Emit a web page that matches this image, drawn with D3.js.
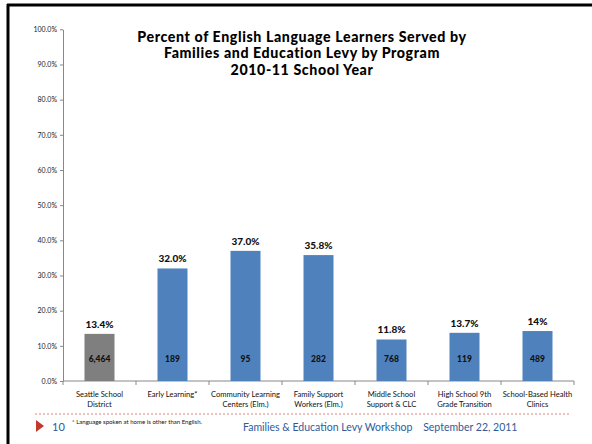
<!DOCTYPE html>
<html><head><meta charset="utf-8">
<script src="https://cdn.jsdelivr.net/npm/d3@7"></script>
<style>html,body{margin:0;padding:0;background:#fff;overflow:hidden}svg{display:block}</style>
</head><body>
<svg id="c" width="592" height="444"></svg>
<script>
const categories = [["Seattle School","District"],["Early Learning*"],["Community Learning","Centers (Elm.)"],["Family Support","Workers (Elm.)"],["Middle School","Support & CLC"],["High School 9th","Grade Transition"],["School-Based Health","Clinics"]];
const percentValues = [13.4, 32.0, 37.0, 35.8, 11.8, 13.7, 14.2];
const percentLabels = ["13.4%","32.0%","37.0%","35.8%","11.8%","13.7%","14%"];
const countLabels = ["6,464","189","95","282","768","119","489"];
const barColors = ["#7f7f7f","#4f81bd","#4f81bd","#4f81bd","#4f81bd","#4f81bd","#4f81bd"];
const yTicks = [0,10,20,30,40,50,60,70,80,90,100];
const titleLines = ["Percent of English Language Learners Served by","Families and Education Levy by Program","2010-11 School Year"];

const svg = d3.select("#c");
const F = "'Lato','Open Sans',sans-serif";

// slide frame
svg.append("line").attr("x1",7).attr("x2",592).attr("y1",5).attr("y2",5).attr("stroke","#000").attr("stroke-width",3);
svg.append("line").attr("x1",8).attr("x2",8).attr("y1",4).attr("y2",444).attr("stroke","#000").attr("stroke-width",3);

const x0 = 63, x1 = 574, yTop = 29.3, yBot = 381;
const x = d3.scaleBand().domain(d3.range(categories.length)).range([x0,x1]).paddingInner(0).paddingOuter(0);
const y = d3.scaleLinear().domain([0,100]).range([yBot,yTop]);
const bw = 30;

// y axis
const ya = svg.append("g").attr("transform",`translate(${x0},0)`)
  .call(d3.axisLeft(y).tickValues(yTicks).tickFormat(d=>d.toFixed(1)+"%").tickSize(3).tickSizeOuter(0));
ya.select(".domain").attr("stroke","#888");
ya.selectAll(".tick line").attr("stroke","#888");
ya.selectAll(".tick text").attr("font-family",F).attr("font-size",7).attr("fill","#222").attr("x",-6);

// x axis
const xa = svg.append("g").attr("transform",`translate(0,${yBot})`);
xa.append("line").attr("x1",x0).attr("x2",x1).attr("y1",0).attr("y2",0).attr("stroke","#888");
xa.selectAll("line.t").data(d3.range(categories.length+1)).enter().append("line")
  .attr("x1",i=>x0+i*x.bandwidth()).attr("x2",i=>x0+i*x.bandwidth()).attr("y1",0).attr("y2",4).attr("stroke","#888");

// bars
svg.selectAll("rect.bar").data(percentValues).enter().append("rect")
  .attr("x",(d,i)=>x(i)+x.bandwidth()/2-bw/2).attr("width",bw)
  .attr("y",d=>y(d)).attr("height",d=>yBot-y(d)).attr("fill",(d,i)=>barColors[i]);

svg.selectAll("text.pl").data(percentValues).enter().append("text")
  .attr("x",(d,i)=>x(i)+x.bandwidth()/2).attr("y",d=>y(d)-6)
  .attr("text-anchor","middle").attr("font-family",F).attr("font-weight","900").attr("font-size",10).attr("fill","#111")
  .text((d,i)=>percentLabels[i]);

svg.selectAll("text.cl").data(countLabels).enter().append("text")
  .attr("x",(d,i)=>x(i)+x.bandwidth()/2).attr("y",362)
  .attr("text-anchor","middle").attr("font-family",F).attr("font-weight","900").attr("font-size",8.5).attr("fill","#111")
  .text(d=>d);

// category labels
categories.forEach((lines,i)=>{
  lines.forEach((l,j)=>{
    svg.append("text").attr("x",x(i)+x.bandwidth()/2).attr("y",397+j*9.5)
      .attr("text-anchor","middle").attr("font-family",F).attr("font-size",7.6).attr("fill","#111").text(l);
  });
});

// title
titleLines.forEach((t,i)=>{
  svg.append("text").attr("x",302).attr("y",42+i*16.3).attr("text-anchor","middle")
    .attr("font-family",F).attr("font-weight","900").attr("font-size",14.2).attr("letter-spacing",0.6)
    .attr("fill","#000").text(t);
});

// footer
svg.append("line").attr("x1",35).attr("x2",570).attr("y1",414).attr("y2",414)
  .attr("stroke","#e06060").attr("stroke-width",0.8).attr("stroke-dasharray","2,2");
svg.append("path").attr("d","M36,420 L44,426 L36,432 Z").attr("fill","#c0392b");
svg.append("text").attr("x",52).attr("y",431).attr("font-family",F).attr("font-size",11).attr("fill","#2e5a9a").text("10");
svg.append("text").attr("x",72).attr("y",424).attr("font-family",F).attr("font-size",5.5).attr("fill","#111")
  .attr("textLength",130).attr("lengthAdjust","spacingAndGlyphs").text("* Language spoken at home is other than English.");
svg.append("text").attr("x",243).attr("y",431).attr("font-family",F).attr("font-size",10.5).attr("fill","#2e5a9a")
  .attr("xml:space","preserve").text("Families & Education Levy Workshop    September 22, 2011");
</script>
</body></html>
